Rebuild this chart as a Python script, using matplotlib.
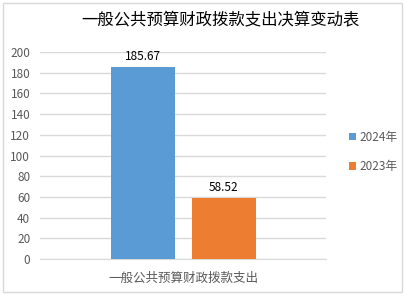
import matplotlib
matplotlib.use("Agg")
import matplotlib.pyplot as plt
from matplotlib.patches import Rectangle

plt.rcParams['font.family'] = ['Noto Sans CJK SC', 'DejaVu Sans']

title = "一般公共预算财政拨款支出决算变动表"
category = "一般公共预算财政拨款支出"
series_names = ["2024年", "2023年"]
values = [185.67, 58.52]
colors = ["#5B9BD5", "#ED7D31"]
yticks = [0, 20, 40, 60, 80, 100, 120, 140, 160, 180, 200]

W, H = 409, 297
fig = plt.figure(figsize=(W / 100, H / 100), dpi=100)
fig.patch.set_facecolor("white")
fig.patches.append(Rectangle((3 / W, 1 - 292 / H), 399 / W, 289 / H,
                             transform=fig.transFigure, fill=False,
                             edgecolor="#D9D9D9", linewidth=1))

ax = fig.add_axes([40 / W, 1 - 259 / H, 286 / W, 207 / H])
ax.set_ylim(0, 200)
ax.set_xlim(-1, 1)
bw = 64 / 286 * 2
gap = 17 / 286 * 2
xs = [-(bw + gap) / 2, (bw + gap) / 2]
for x, v, c, n in zip(xs, values, colors, series_names):
    ax.bar(x, v, width=bw, color=c, label=n, zorder=3)
    ax.text(x, v + 4, f"{v:.2f}", ha="center", va="bottom", fontsize=8.5, color="#000000")

ax.set_yticks(yticks)
ax.set_yticklabels([str(t) for t in yticks], fontsize=8.5, color="#595959")
ax.tick_params(axis="y", length=0, pad=7)
ax.set_xticks([0])
ax.set_xticklabels([category], fontsize=9, color="#595959")
ax.tick_params(axis="x", length=0, pad=9)
ax.grid(axis="y", color="#D9D9D9", linewidth=1, zorder=0)
for s in ["top", "right", "left"]:
    ax.spines[s].set_visible(False)
ax.spines["bottom"].set_color("#D9D9D9")

fig.text(220 / W, 1 - 20 / H, title, ha="center", va="center", fontsize=11.8, color="#000000")

leg = fig.legend(loc="center left", bbox_to_anchor=(338 / W, 1 - 152 / H), frameon=False,
                 fontsize=8.5, handlelength=0.6, handleheight=0.6, handletextpad=0.3,
                 labelspacing=1.4, labelcolor="#595959")

fig.savefig("out.png", dpi=100)
